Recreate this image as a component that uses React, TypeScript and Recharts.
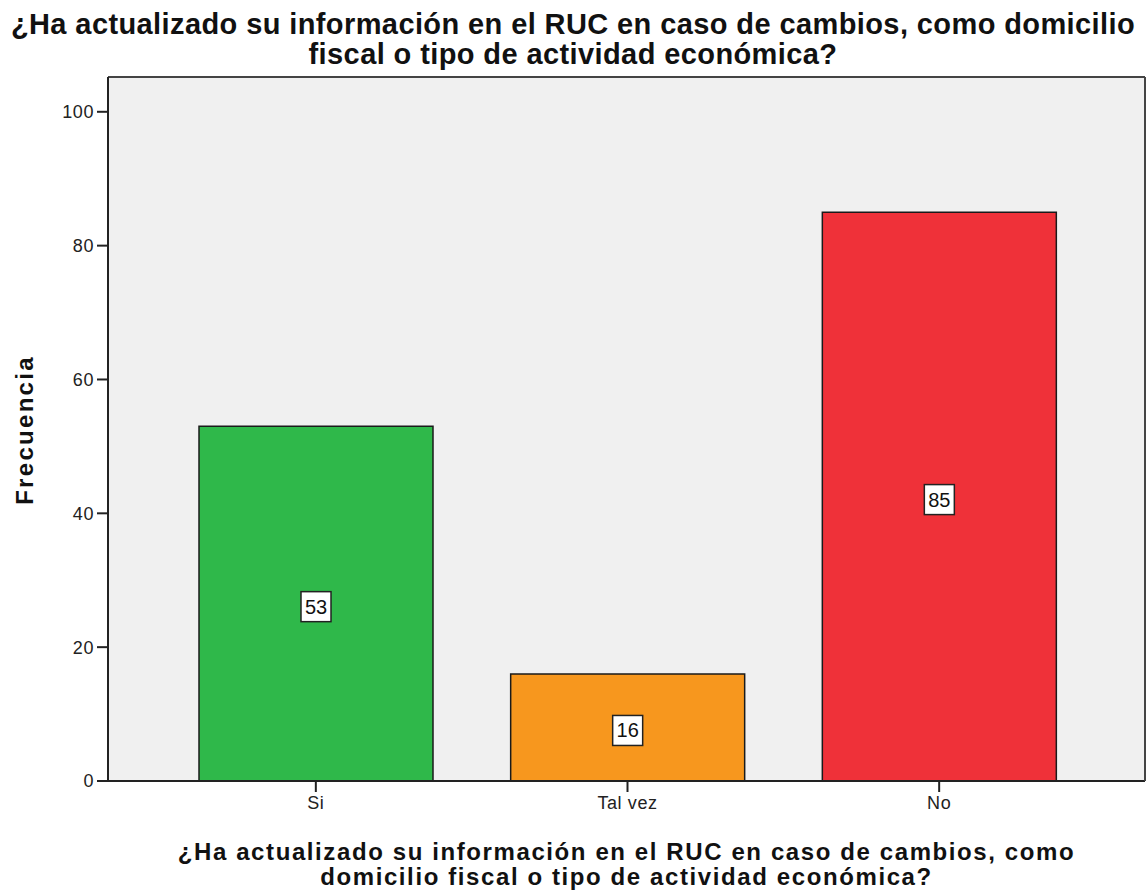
import { BarChart, Bar, XAxis, YAxis, Cell, LabelList, CartesianGrid } from "recharts";

const categories = ["Si", "Tal vez", "No"];
const frecuencias = [53, 16, 85];
const barColors = ["#2fb84a", "#f7971e", "#ef3139"];
const yTicks = [0, 20, 40, 60, 80, 100];

const titleLines = [
  "¿Ha actualizado su información en el RUC en caso de cambios, como domicilio",
  "fiscal o tipo de actividad económica?",
];
const xTitleLines = [
  "¿Ha actualizado su información en el RUC en caso de cambios, como",
  "domicilio fiscal o tipo de actividad económica?",
];

const data = categories.map((c, i) => ({ name: c, value: frecuencias[i] }));

const FONT = "'Liberation Sans', Arial, sans-serif";
const tickStyle = { fontSize: 18, fill: "#222", fontFamily: FONT, letterSpacing: 0.6 };

function ValueBox(props: any) {
  const { x, y, width, height, value } = props;
  const cx = x + width / 2;
  const cy = y + height / 2 + 3;
  const w = 30;
  const h = 30;
  return (
    <g>
      <rect
        x={cx - w / 2}
        y={cy - h / 2}
        width={w}
        height={h}
        fill="#fff"
        stroke="#222"
        strokeWidth={1.5}
      />
      <text
        x={cx}
        y={cy + 7}
        textAnchor="middle"
        fontSize={20}
        fontFamily={FONT}
        fill="#111"
      >
        {value}
      </text>
    </g>
  );
}

export default function App() {
  return (
    <div
      style={{
        position: "absolute",
        left: 0,
        top: 0,
        width: 1146,
        height: 893,
        background: "#fff",
        fontFamily: FONT,
      }}
    >
      <div
        style={{
          position: "absolute",
          left: 0,
          top: 9,
          width: 1146,
          textAlign: "center",
          fontSize: 29,
          fontWeight: "bold",
          lineHeight: "30px",
          letterSpacing: 0.4,
          color: "#111",
          whiteSpace: "nowrap",
        }}
      >
        {titleLines.map((l) => (
          <div key={l}>{l}</div>
        ))}
      </div>
      <BarChart
        width={1146}
        height={893}
        data={data}
        margin={{ top: 76, right: 0, left: 48, bottom: 82 }}
        barSize={234}
      >
        <CartesianGrid horizontal={false} vertical={false} fill="#f0f0f0" />
        <XAxis
          dataKey="name"
          height={30}
          padding={{ left: 52, right: 50 }}
          axisLine={{ stroke: "#222", strokeWidth: 2 }}
          tickLine={{ stroke: "#222", strokeWidth: 2 }}
          tickSize={11}
          tickMargin={4}
          tick={tickStyle}
        />
        <XAxis
          xAxisId="top"
          dataKey="name"
          orientation="top"
          height={1}
          tick={false}
          tickLine={false}
          axisLine={{ stroke: "#444", strokeWidth: 2 }}
        />
        <YAxis
          domain={[0, 105.2]}
          ticks={yTicks}
          width={60}
          axisLine={{ stroke: "#222", strokeWidth: 2 }}
          tickLine={{ stroke: "#222", strokeWidth: 2 }}
          tickSize={11}
          tickMargin={3}
          tick={tickStyle}
          allowDataOverflow
        />
        <YAxis
          yAxisId="right"
          orientation="right"
          width={1}
          tick={false}
          tickLine={false}
          axisLine={{ stroke: "#444", strokeWidth: 2 }}
        />
        <Bar
          dataKey="value"
          isAnimationActive={false}
          stroke="#1a1a1a"
          strokeWidth={1.5}
        >
          {data.map((d, i) => (
            <Cell key={d.name} fill={barColors[i]} />
          ))}
          <LabelList dataKey="value" content={<ValueBox />} />
        </Bar>
      </BarChart>
      <div
        style={{
          position: "absolute",
          left: 8,
          top: 330,
          width: 34,
          height: 200,
          display: "flex",
          alignItems: "center",
          justifyContent: "center",
        }}
      >
        <div
          style={{
            transform: "rotate(-90deg)",
            fontSize: 24,
            fontWeight: "bold",
            letterSpacing: 2.3,
            color: "#111",
            whiteSpace: "nowrap",
          }}
        >
          Frecuencia
        </div>
      </div>
      <div
        style={{
          position: "absolute",
          left: 108,
          top: 839,
          width: 1037,
          textAlign: "center",
          fontSize: 24,
          fontWeight: "bold",
          lineHeight: "25px",
          letterSpacing: 1.6,
          color: "#111",
          whiteSpace: "nowrap",
        }}
      >
        {xTitleLines.map((l) => (
          <div key={l}>{l}</div>
        ))}
      </div>
    </div>
  );
}
